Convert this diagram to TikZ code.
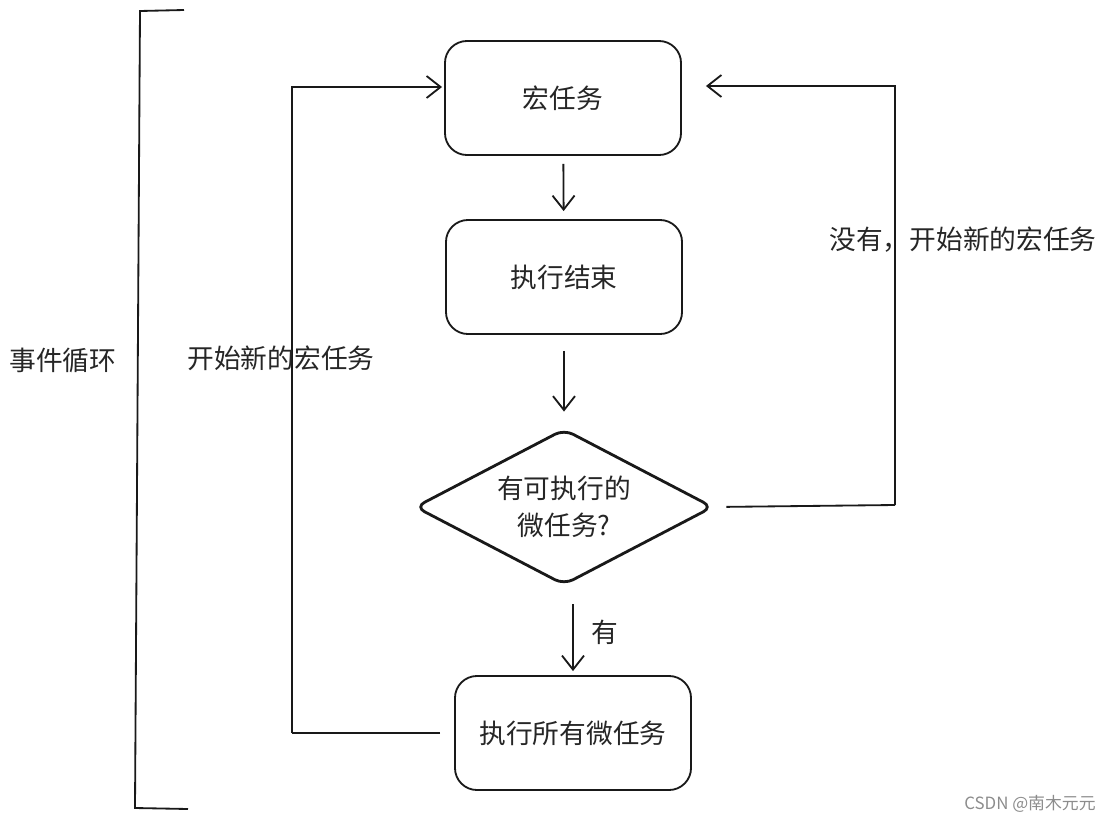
\documentclass[tikz,border=0pt]{standalone}
\usepackage{fontspec}
\setmainfont{Noto Sans CJK SC}
\usetikzlibrary{shapes.geometric,arrows.meta}

\tikzstyle{box}=[rectangle,rounded corners=0.55cm,draw=black!90,line width=1.3pt,minimum width=5.9cm,minimum height=2.85cm,font=\fontsize{19}{23}\selectfont,text=black!85]
\tikzstyle{ask}=[diamond,rounded corners=0.25cm,draw=black!90,line width=2pt,minimum width=7.45cm,minimum height=3.9cm,inner sep=0pt]
\tikzstyle{flow}=[draw=black!90,line width=1.3pt,-{Straight Barb[length=3.5mm,width=5.5mm]}]
\tikzstyle{back}=[draw=black!90,line width=1.3pt]
\tikzstyle{lbl}=[font=\fontsize{19}{23}\selectfont,text=black!85,inner sep=0pt]

\begin{document}
\begin{tikzpicture}[x=0.025cm,y=-0.025cm]
        \useasboundingbox (0,0) rectangle (1114,823);
        \draw (563,98) node[box](macro){宏任务};
        \draw (564,277) node[box](exec){执行结束};
        \draw (564,507) node[ask,label={[lbl,align=center,font=\fontsize{19}{26}\selectfont]center:有可执行的\\微任务?}](check){};
        \draw (573,733) node[box](micro){执行所有微任务};
        \coordinate (lcorner) at (292,733);
        \coordinate (rcorner) at (895,505);
        %
        \path
            (macro)     edge[flow, shorten <=0.2cm, shorten >=0.2cm]     (exec)
            (exec)      edge[flow, shorten <=0.4cm, shorten >=0.4cm]     (check)
            (check.south -| micro.north) edge[flow, shorten <=0.45cm, shorten >=0.1cm] node[lbl,right=0.45cm,pos=0.52]{有} (micro.north)
        ;
        \draw[back, shorten <=0.3cm] (check.east) -- (rcorner);
        \draw[flow, shorten >=0.6cm] (rcorner) |- ([yshift=0.3cm]macro.east);
        \draw[back, shorten <=0.35cm] (micro.west) -- (lcorner);
        \draw[flow, shorten >=0.05cm] (lcorner) |- ([yshift=0.275cm]macro.west);
        %
        \draw (281,358) node[lbl](leftlbl){开始新的宏任务};
        \draw (963,240) node[lbl](rightlbl){没有，开始新的宏任务};
        % bracket
        \draw[back] (184,10) -- (140,11) -- (135,808) -- (188,809);
        \draw (63,360) node[lbl](loop){事件循环};
        \draw (1030,804) node[font=\fontsize{12}{14}\selectfont,text=black!45,inner sep=0pt](mark){CSDN @南木元元};
        %;
\end{tikzpicture}
\end{document}
